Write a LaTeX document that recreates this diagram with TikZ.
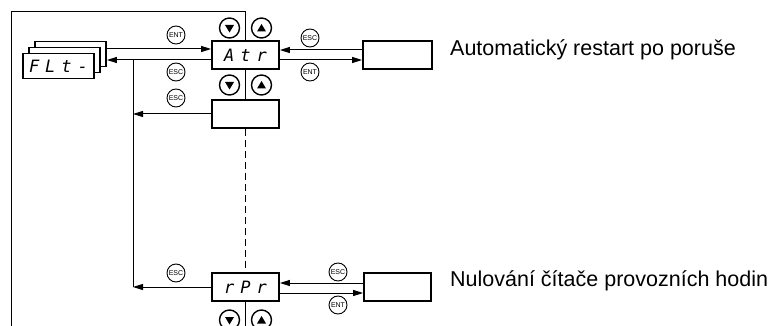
\documentclass[tikz,border=0pt]{standalone}
\usepackage{fontspec}
\setmainfont{Liberation Sans}
\newfontfamily\segfont{DejaVu Sans Mono}
\usetikzlibrary{arrows.meta,calc}
\tikzset{
  pantalla/.style={draw,line width=1.8pt,minimum width=67pt,minimum height=28pt,inner sep=0pt,
    font=\segfont\itshape\fontsize{17}{17}\selectfont},
  linea/.style={line width=1pt},
  flecha/.style={linea,-{Triangle[length=10pt,width=6pt]}},
  tecla/.style={circle,draw,fill=white,line width=0.9pt,minimum size=18pt,inner sep=0pt,
    font=\fontsize{7}{7}\selectfont},
  boton/.style={circle,draw,line width=1.4pt,minimum size=20pt,inner sep=0pt},
  rotulo/.style={anchor=base west,inner sep=0pt,font=\fontsize{21.5}{24}\selectfont}
}
\newcommand{\sep}{\hspace{6pt}}
\begin{document}
\begin{tikzpicture}[x=1pt,y=-1pt]
\useasboundingbox (0,0) rectangle (782,326);
% pila de pantallas FLt
\node[pantalla,fill=white,minimum width=71pt,minimum height=25pt] (fltc) at (70.5,54) {};
\node[pantalla,fill=white,minimum width=71pt,minimum height=25pt] (fltb) at (64.5,60) {};
\node[pantalla,fill=white,minimum width=71pt,minimum height=25pt] (flta) at (58.5,66) {F\sep L\sep t\sep -};
% pantallas del menu
\node[pantalla] (atr) at (245.5,55) {A\sep t\sep r};
\node[pantalla] (blk) at (245.5,114) {};
\node[pantalla] (rpr) at (245.5,287) {r\sep P\sep r};
\node[pantalla,minimum width=69pt] (atrv) at (397.5,55) {};
\node[pantalla] (rprv) at (397.5,287) {};
% marco y eje central
\coordinate (arr) at (245.5,12);
\coordinate (esq) at (11,326);
\coordinate (abajo) at (245.5,326);
\draw[linea] (atr.north) -- (arr) -| (esq);
\draw[linea] (atr.south) -- (blk.north);
\draw[linea,dash pattern=on 7pt off 4pt] (blk.south) -- (rpr.north);
\draw[linea] (rpr.south) -- (abajo);
% botones arriba/abajo
\foreach \y in {28,85,320}{
  \node[boton] (baja\y) at (229.5,\y) {};
  \node[boton] (sube\y) at (261.5,\y) {};
  \fill (baja\y) ++(-4.5,-3) -- ++(9,0) -- ++(-4.5,7.5) -- cycle;
  \fill (sube\y) ++(-4.5,3.5) -- ++(9,0) -- ++(-4.5,-7.5) -- cycle;
}
% flechas hacia FLt
\draw[flecha] ([yshift=5pt]fltc.east) -- ([yshift=5pt]fltc.east -| atr.west);
\draw[flecha] ([yshift=-5pt]atr.west) -- ([yshift=-5pt]atr.west -| fltc.east);
\coordinate (eje) at (133,60);
\draw[linea] (eje) -- (eje |- rpr.west);
\draw[flecha] (blk.west) -- (blk.west -| eje);
\draw[flecha] (rpr.west) -- (rpr.west -| eje);
% flechas hacia los valores
\draw[flecha] ([yshift=5pt]atrv.west) -- ([yshift=5pt]atr.east);
\draw[flecha] ([yshift=-5pt]atr.east) -- ([yshift=-5pt]atrv.west);
\draw[flecha] ([yshift=4pt]rprv.west) -- ([yshift=4pt]rpr.east);
\draw[flecha] ([yshift=-6pt]rpr.east) -- ([yshift=-6pt]rprv.west);
% teclas
\node[tecla] (ent1) at (176,35) {ENT};
\node[tecla] (esc1) at (176,72) {ESC};
\node[tecla] (esc2) at (176,98) {ESC};
\node[tecla] (esc3) at (176,273) {ESC};
\node[tecla] (esc4) at (310,38) {ESC};
\node[tecla] (ent2) at (310,72) {ENT};
\node[tecla] (esc5) at (338,272) {ESC};
\node[tecla] (ent3) at (338,305) {ENT};
% textos
\node[rotulo] (t1) at (450,56) {Automatický restart po poruše};
\node[rotulo] (t2) at (450,286) {Nulování čítače provozních hodin};
\end{tikzpicture}
\end{document}
